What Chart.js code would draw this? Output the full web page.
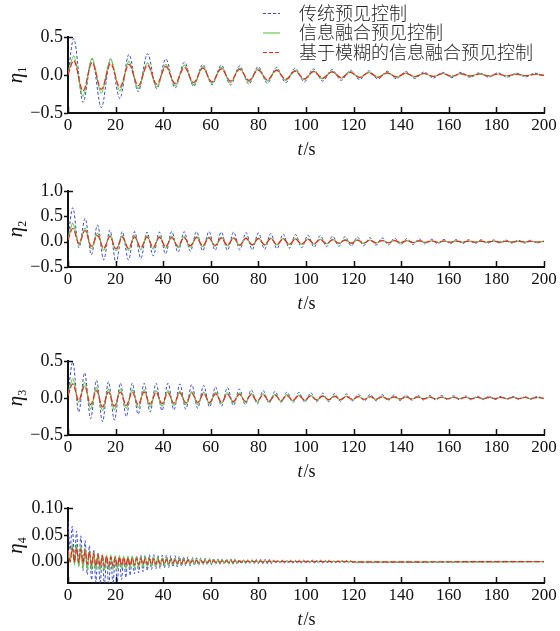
<!DOCTYPE html>
<html>
<head>
<meta charset="utf-8">
<script src="https://cdn.jsdelivr.net/npm/chart.js@4.4.0/dist/chart.umd.min.js"></script>
<style>
  html, body { margin: 0; padding: 0; background: #fff; }
  #wrap { position: relative; width: 560px; height: 631px; overflow: hidden; }
  canvas { position: absolute; left: 0; }
</style>
</head>
<body>
<div id="wrap">
  <canvas id="c1" width="560" height="158" style="top:0px"></canvas>
  <canvas id="c2" width="560" height="142" style="top:170px"></canvas>
  <canvas id="c3" width="560" height="140" style="top:340px"></canvas>
  <canvas id="c4" width="560" height="141" style="top:487px"></canvas>
</div>
<script>
// legend names
const seriesNames = ['传统预见控制', '信息融合预见控制', '基于模糊的信息融合预见控制'];

// x ticks shared by all panels
const xTicks = [0, 20, 40, 60, 80, 100, 120, 140, 160, 180, 200];

// y ticks per panel
const yTicks1 = [-0.5, 0, 0.5];
const yTicks2 = [-0.5, 0, 0.5, 1.0];
const yTicks3 = [-0.5, 0, 0.5];
const yTicks4 = [0, 0.05, 0.10];

// ---- eta1: times of the peaks / troughs ----
const t1 = [0, 2.4, 6.3, 10.1, 14.0, 17.9, 21.8, 25.6, 29.5, 33.4, 37.3, 41.1, 45.0, 48.9, 52.8, 56.6,
  60.5, 64.4, 68.3, 72.1, 76.0, 79.9, 83.8, 87.6, 91.5, 95.4, 99.3, 103.1, 107.0, 110.9, 114.8, 118.6,
  122.5, 126.4, 130.3, 134.1, 138.0, 141.9, 145.8, 149.6, 153.5, 157.4, 161.3, 165.1, 169.0, 172.9,
  176.8, 180.6, 184.5, 188.4, 192.3, 196.1, 200];
const p1Trad = [0,
  0.48, -0.36, 0.21, -0.43, 0.21, -0.31, 0.27, -0.22, 0.28, -0.18,
  0.21, -0.17, 0.17, -0.15, 0.14, -0.13, 0.13, -0.13, 0.12, -0.12,
  0.11, -0.11, 0.10, -0.10, 0.09, -0.09, 0.08, -0.08, 0.07, -0.07,
  0.06, -0.06, 0.055, -0.055, 0.05, -0.05, 0.045, -0.045, 0.04, -0.04,
  0.035, -0.035, 0.035, -0.03, 0.03, -0.03, 0.03, -0.03, 0.025, -0.025,
  0.025, -0.01];
const p1Fusion = [0.02,
  0.25, -0.28, 0.22, -0.24, 0.21, -0.21, 0.18, -0.18, 0.16, -0.16,
  0.14, -0.14, 0.13, -0.13, 0.11, -0.11, 0.10, -0.10, 0.09, -0.09,
  0.08, -0.08, 0.07, -0.07, 0.06, -0.06, 0.05, -0.05, 0.045, -0.04,
  0.04, -0.035, 0.035, -0.03, 0.03, -0.03, 0.025, -0.025, 0.022, -0.02,
  0.02, -0.018, 0.017, -0.015, 0.015, -0.013, 0.013, -0.012, 0.012, -0.01,
  0.01, -0.005];
const p1Fuzzy = [0,
  0.19, -0.21, 0.16, -0.19, 0.15, -0.16, 0.14, -0.14, 0.13, -0.12,
  0.11, -0.11, 0.10, -0.10, 0.09, -0.09, 0.08, -0.08, 0.075, -0.07,
  0.065, -0.06, 0.06, -0.055, 0.05, -0.05, 0.045, -0.04, 0.04, -0.035,
  0.035, -0.03, 0.03, -0.03, 0.025, -0.025, 0.022, -0.02, 0.02, -0.018,
  0.017, -0.015, 0.015, -0.013, 0.013, -0.012, 0.011, -0.01, 0.01, -0.01,
  0.01, -0.005];

// ---- eta2 ----
const t2 = [0,
  2.0, 4.6, 7.2, 9.8, 12.4, 15.0, 17.6, 20.2, 22.8, 25.4,
  28.0, 30.6, 33.2, 35.8, 38.4, 41.0, 43.6, 46.2, 48.8, 51.4,
  54.0, 56.6, 59.2, 61.8, 64.4, 67.0, 69.6, 72.2, 74.8, 77.4,
  80.0, 82.6, 85.2, 87.8, 90.4, 93.0, 95.6, 98.2, 100.8, 103.4,
  106.0, 108.6, 111.2, 113.8, 116.4, 119.0, 121.6, 124.2, 126.8, 129.4,
  132.0, 134.6, 137.2, 139.8, 142.4, 145.0, 147.6, 150.2, 152.8, 155.4,
  158.0, 160.6, 163.2, 165.8, 168.4, 171.0, 173.6, 176.2, 178.8, 181.4,
  184.0, 186.6, 189.2, 191.8, 194.4, 197.0,
  200];
const p2Trad = [0.05,
  0.67, -0.12, 0.46, -0.26, 0.33, -0.36, 0.23, -0.42, 0.20, -0.36,
  0.20, -0.33, 0.19, -0.28, 0.19, -0.24, 0.20, -0.21, 0.20, -0.19,
  0.20, -0.18, 0.20, -0.17, 0.19, -0.17, 0.19, -0.16, 0.18, -0.16,
  0.17, -0.15, 0.16, -0.14, 0.15, -0.13, 0.14, -0.12, 0.13, -0.11,
  0.12, -0.10, 0.11, -0.09, 0.10, -0.085, 0.09, -0.08, 0.08, -0.07,
  0.075, -0.065, 0.07, -0.06, 0.06, -0.055, 0.055, -0.05, 0.05, -0.045,
  0.045, -0.04, 0.042, -0.038, 0.04, -0.035, 0.037, -0.033, 0.034, -0.03,
  0.032, -0.028, 0.03, -0.026, 0.028, -0.025,
  0.01];
const p2Fusion = [0.05,
  0.36, -0.06, 0.27, -0.14, 0.17, -0.17, 0.13, -0.18, 0.12, -0.17,
  0.12, -0.16, 0.12, -0.15, 0.11, -0.13, 0.11, -0.12, 0.10, -0.11,
  0.10, -0.10, 0.09, -0.09, 0.085, -0.085, 0.08, -0.08, 0.075, -0.075,
  0.07, -0.07, 0.07, -0.065, 0.065, -0.06, 0.06, -0.055, 0.055, -0.05,
  0.05, -0.045, 0.045, -0.04, 0.04, -0.035, 0.035, -0.032, 0.03, -0.028,
  0.027, -0.025, 0.024, -0.022, 0.021, -0.02, 0.019, -0.018, 0.017, -0.016,
  0.015, -0.014, 0.014, -0.013, 0.013, -0.012, 0.012, -0.011, 0.011, -0.01,
  0.01, -0.009, 0.009, -0.008, 0.008, -0.008,
  0.004];
const p2Fuzzy = [0.03,
  0.26, -0.03, 0.22, -0.09, 0.12, -0.13, 0.10, -0.14, 0.09, -0.13,
  0.09, -0.12, 0.09, -0.11, 0.085, -0.10, 0.08, -0.09, 0.08, -0.08,
  0.08, -0.08, 0.075, -0.075, 0.07, -0.07, 0.07, -0.065, 0.065, -0.06,
  0.06, -0.06, 0.06, -0.055, 0.055, -0.05, 0.05, -0.045, 0.045, -0.04,
  0.04, -0.035, 0.035, -0.03, 0.03, -0.03, 0.028, -0.026, 0.025, -0.023,
  0.022, -0.02, 0.02, -0.018, 0.018, -0.016, 0.016, -0.014, 0.014, -0.013,
  0.013, -0.012, 0.012, -0.011, 0.011, -0.01, 0.01, -0.01, 0.009, -0.009,
  0.008, -0.008, 0.008, -0.007, 0.007, -0.007,
  0.004];

// ---- eta3 ----
const t3 = [0,
  2.0, 4.5, 7.0, 9.5, 12.0, 14.5, 17.0, 19.5, 22.0, 24.5,
  27.0, 29.5, 32.0, 34.5, 37.0, 39.5, 42.0, 44.5, 47.0, 49.5,
  52.0, 54.5, 57.0, 59.5, 62.0, 64.5, 67.0, 69.5, 72.0, 74.5,
  77.0, 79.5, 82.0, 84.5, 87.0, 89.5, 92.0, 94.5, 97.0, 99.5,
  102.0, 104.5, 107.0, 109.5, 112.0, 114.5, 117.0, 119.5, 122.0, 124.5,
  127.0, 129.5, 132.0, 134.5, 137.0, 139.5, 142.0, 144.5, 147.0, 149.5,
  152.0, 154.5, 157.0, 159.5, 162.0, 164.5, 167.0, 169.5, 172.0, 174.5,
  177.0, 179.5, 182.0, 184.5, 187.0, 189.5, 192.0, 194.5, 197.0,
  200];
const p3Trad = [0.04,
  0.49, -0.19, 0.34, -0.28, 0.24, -0.32, 0.22, -0.30, 0.20, -0.25,
  0.20, -0.22, 0.20, -0.19, 0.20, -0.17, 0.20, -0.16, 0.19, -0.15,
  0.18, -0.14, 0.17, -0.12, 0.15, -0.11, 0.14, -0.10, 0.12, -0.09,
  0.11, -0.08, 0.10, -0.07, 0.09, -0.06, 0.08, -0.06, 0.075, -0.055,
  0.07, -0.05, 0.065, -0.05, 0.06, -0.045, 0.055, -0.04, 0.05, -0.04,
  0.048, -0.038, 0.045, -0.035, 0.042, -0.033, 0.04, -0.03, 0.038, -0.03,
  0.035, -0.028, 0.033, -0.026, 0.03, -0.025, 0.028, -0.024, 0.026, -0.022,
  0.025, -0.021, 0.023, -0.02, 0.022, -0.019, 0.02, -0.018,
  0.02, -0.01];
const p3Fusion = [0.04,
  0.26, -0.06, 0.21, -0.15, 0.14, -0.17, 0.12, -0.16, 0.12, -0.14,
  0.11, -0.13, 0.11, -0.12, 0.10, -0.11, 0.10, -0.10, 0.09, -0.09,
  0.085, -0.085, 0.08, -0.08, 0.075, -0.07, 0.07, -0.065, 0.065, -0.06,
  0.06, -0.055, 0.055, -0.05, 0.05, -0.045, 0.045, -0.04, 0.04, -0.035,
  0.035, -0.032, 0.032, -0.03, 0.028, -0.026, 0.025, -0.023, 0.022, -0.02,
  0.02, -0.018, 0.018, -0.016, 0.016, -0.015, 0.015, -0.014, 0.014, -0.013,
  0.013, -0.012, 0.012, -0.011, 0.011, -0.01, 0.01, -0.01, 0.01, -0.009,
  0.009, -0.009, 0.009, -0.008, 0.008, -0.008, 0.008, -0.007,
  0.007, -0.005];
const p3Fuzzy = [0.03,
  0.19, -0.03, 0.16, -0.09, 0.10, -0.12, 0.08, -0.11, 0.08, -0.10,
  0.08, -0.09, 0.08, -0.08, 0.075, -0.075, 0.07, -0.07, 0.07, -0.065,
  0.065, -0.06, 0.06, -0.06, 0.055, -0.055, 0.05, -0.05, 0.05, -0.045,
  0.045, -0.04, 0.04, -0.04, 0.035, -0.035, 0.032, -0.03, 0.03, -0.028,
  0.027, -0.025, 0.025, -0.023, 0.022, -0.02, 0.02, -0.018, 0.018, -0.017,
  0.017, -0.015, 0.015, -0.014, 0.014, -0.013, 0.013, -0.012, 0.012, -0.011,
  0.011, -0.01, 0.01, -0.01, 0.01, -0.009, 0.009, -0.009, 0.009, -0.008,
  0.008, -0.008, 0.008, -0.007, 0.007, -0.007, 0.007, -0.006,
  0.006, -0.004];

// ---- eta4 ----
const t4 = [0, 0.9, 1.8, 2.7, 3.6, 4.5, 5.4, 6.3, 7.2, 8.1,
  9, 9.9, 10.8, 11.7, 12.6, 13.5, 14.4, 15.3, 16.2, 17.1,
  18, 18.9, 19.8, 20.7, 21.6, 22.5, 23.4, 24.3, 25.2, 26.1,
  27, 27.9, 28.8, 29.7, 30.6, 31.5, 32.4, 33.3, 34.2, 35.1,
  36, 36.9, 37.8, 38.7, 39.6, 40.5, 41.4, 42.3, 43.2, 44.1,
  45, 45.9, 46.8, 47.7, 48.6, 49.5, 50.4, 51.3, 52.2, 53.1,
  54, 54.9, 55.8, 56.7, 57.6, 58.5, 59.4, 60.3, 61.2, 62.1,
  63, 63.9, 64.8, 65.7, 66.6, 67.5, 68.4, 69.3, 70.2, 71.1,
  72, 72.9, 73.8, 74.7, 75.6, 76.5, 77.4, 78.3, 79.2, 80.1,
  81, 81.9, 82.8, 83.7, 84.6, 85.5, 86.4, 87.3, 88.2, 89.1,
  90, 90.9, 91.8, 92.7, 93.6, 94.5, 95.4, 96.3, 97.2, 98.1,
  99, 99.9, 100.8, 101.7, 102.6, 103.5, 104.4, 105.3, 106.2, 107.1,
  108, 108.9, 109.8, 110.7, 111.6, 112.5, 113.4, 114.3, 115.2, 116.1,
  117, 117.9, 118.8, 119.7,
  200];
const p4Trad = [0.075, 0.022, 0.066, 0.006, 0.057, -0.007, 0.048, -0.017, 0.039, -0.025,
  0.030, -0.034, 0.022, -0.039, 0.016, -0.043, 0.011, -0.045, 0.008, -0.045,
  0.006, -0.043, 0.006, -0.039, 0.007, -0.034, 0.008, -0.030, 0.009, -0.026,
  0.010, -0.023, 0.011, -0.021, 0.012, -0.019, 0.012, -0.017, 0.013, -0.015,
  0.013, -0.014, 0.012, -0.013, 0.012, -0.012, 0.012, -0.011, 0.011, -0.010,
  0.011, -0.010, 0.010, -0.009, 0.009, -0.008, 0.009, -0.008, 0.008, -0.007,
  0.007, -0.007, 0.007, -0.006, 0.006, -0.006, 0.006, -0.006, 0.006, -0.005,
  0.005, -0.005, 0.005, -0.005, 0.005, -0.005, 0.005, -0.005, 0.005, -0.005,
  0.004, -0.004, 0.004, -0.004, 0.004, -0.004, 0.004, -0.004, 0.004, -0.004,
  0.004, -0.004, 0.004, -0.004, 0.004, -0.004, 0.003, -0.003, 0.003, -0.003,
  0.003, -0.003, 0.003, -0.003, 0.003, -0.003, 0.003, -0.003, 0.003, -0.003,
  0.003, -0.003, 0.003, -0.003, 0.003, -0.003, 0.003, -0.003, 0.003, -0.003,
  0.003, -0.003, 0.003, -0.002, 0.002, -0.002, 0.002, -0.002, 0.002, -0.002,
  0.002, -0.002, 0.002, -0.002,
  0];
const p4Fusion = [0.020, -0.002, 0.033, -0.006, 0.032, -0.010, 0.029, -0.013, 0.025, -0.015,
  0.020, -0.016, 0.017, -0.016, 0.015, -0.016, 0.013, -0.016, 0.012, -0.015,
  0.012, -0.015, 0.011, -0.014, 0.011, -0.013, 0.010, -0.013, 0.010, -0.012,
  0.010, -0.011, 0.009, -0.010, 0.009, -0.010, 0.009, -0.009, 0.008, -0.009,
  0.008, -0.008, 0.008, -0.008, 0.007, -0.007, 0.007, -0.007, 0.006, -0.006,
  0.006, -0.006, 0.006, -0.005, 0.005, -0.005, 0.005, -0.005, 0.005, -0.004,
  0.004, -0.004, 0.004, -0.004, 0.004, -0.004, 0.004, -0.004, 0.003, -0.003,
  0.003, -0.003, 0.003, -0.003, 0.003, -0.003, 0.003, -0.003, 0.003, -0.003,
  0.002, -0.002, 0.002, -0.002, 0.002, -0.002, 0.002, -0.002, 0.002, -0.002,
  0.002, -0.002, 0.002, -0.002, 0.002, -0.001, 0.001, -0.001, 0.001, -0.001,
  0.001, -0.001, 0.001, -0.001, 0.001, -0.001, 0.001, -0.001, 0.001, -0.001,
  0.001, -0.001, 0.001, -0.001, 0.001, -0.001, 0.001, -0.001, 0.001, -0.001,
  0.001, -0.001, 0.001, -0.001, 0.001, -0.001, 0.001, -0.001, 0.001, -0.001,
  0.001, -0.001, 0.001, -0.001,
  0];
const p4Fuzzy = [0.022, 0.000, 0.025, -0.001, 0.025, -0.002, 0.023, -0.003, 0.021, -0.005,
  0.018, -0.007, 0.015, -0.008, 0.013, -0.009, 0.011, -0.009, 0.010, -0.009,
  0.009, -0.008, 0.008, -0.008, 0.008, -0.007, 0.007, -0.007, 0.007, -0.007,
  0.006, -0.006, 0.006, -0.006, 0.006, -0.005, 0.005, -0.005, 0.005, -0.005,
  0.005, -0.005, 0.004, -0.004, 0.004, -0.004, 0.004, -0.004, 0.004, -0.003,
  0.003, -0.003, 0.003, -0.003, 0.003, -0.003, 0.003, -0.003, 0.002, -0.002,
  0.002, -0.002, 0.002, -0.002, 0.002, -0.002, 0.002, -0.002, 0.0015, -0.0015,
  0.0015, -0.0015, 0.0015, -0.0015, 0.0015, -0.0015, 0.0015, -0.0015, 0.0015, -0.0015,
  0.001, -0.001, 0.001, -0.001, 0.001, -0.001, 0.001, -0.001, 0.001, -0.001,
  0.001, -0.001, 0.001, -0.001, 0.001, -0.001, 0.001, -0.001, 0.001, -0.001,
  0.0005, -0.0005, 0.0005, -0.0005, 0.0005, -0.0005, 0.0005, -0.0005, 0.0005, -0.0005,
  0.0005, -0.0005, 0.0005, -0.0005, 0.0005, -0.0005, 0.0005, -0.0005, 0.0005, -0.0005,
  0.0005, -0.0005, 0.0005, -0.0005, 0.0005, -0.0005, 0.0005, -0.0005, 0.0005, -0.0005,
  0.0005, -0.0005, 0.0005, -0.0005,
  0];

const colTrad = '#3a4cc4';
const colFusion = '#6cc850';
const colFuzzy = '#ec2a22';
const serif = '"Liberation Serif", "Times New Roman", serif';

function pts(t, v) {
  return v.map((y, i) => ({ x: t[i], y: y }));
}

function fmt(v, d) {
  return Number(v).toFixed(d).replace('-', '\u2212');
}

// inward x ticks, y ticks, axis titles
const axisDeco = {
  id: 'axisDeco',
  afterDraw(chart) {
    const o = chart.options.plugins.axisDeco;
    const ctx = chart.ctx, a = chart.chartArea;
    const xs = chart.scales.x, ys = chart.scales.y;
    ctx.save();
    ctx.strokeStyle = '#111';
    ctx.lineWidth = 1.5;
    ctx.beginPath();
    xs.ticks.forEach(tk => {
      const px = Math.round(xs.getPixelForValue(tk.value)) + 0.5;
      ctx.moveTo(px, a.bottom);
      ctx.lineTo(px, a.bottom - 6);
    });
    ys.ticks.forEach(tk => {
      const py = Math.round(ys.getPixelForValue(tk.value)) + 0.5;
      ctx.moveTo(a.left, py);
      ctx.lineTo(a.left - 4, py);
    });
    ctx.moveTo(a.left, a.top + 0.5);
    ctx.lineTo(a.left + 5, a.top + 0.5);
    ctx.stroke();

    ctx.fillStyle = '#111';
    // y title: eta with subscript, rotated
    ctx.translate(17, (a.top + a.bottom) / 2);
    ctx.rotate(-Math.PI / 2);
    ctx.font = 'italic 21px ' + serif;
    const w = ctx.measureText('\u03b7').width;
    ctx.font = '12px ' + serif;
    const sw = ctx.measureText(o.sub).width;
    ctx.font = 'italic 21px ' + serif;
    ctx.textBaseline = 'alphabetic';
    ctx.fillText('\u03b7', -(w + sw) / 2, 5);
    ctx.font = '12px ' + serif;
    ctx.fillText(o.sub, -(w + sw) / 2 + w, 9);
    ctx.setTransform(1, 0, 0, 1, 0, 0);

    // x title: t/s
    const cx = (a.left + a.right) / 2, cy = a.bottom + 37;
    ctx.textBaseline = 'middle';
    ctx.font = 'italic 18px ' + serif;
    const tw = ctx.measureText('t').width;
    ctx.font = '18px ' + serif;
    const rw = ctx.measureText('/s').width;
    ctx.font = 'italic 18px ' + serif;
    ctx.fillText('t', cx - (tw + rw) / 2, cy);
    ctx.font = '18px ' + serif;
    ctx.fillText('/s', cx - (tw + rw) / 2 + tw + 1, cy);
    ctx.restore();
  }
};

// legend drawn at the top right of the first panel
const legendDeco = {
  id: 'legendDeco',
  afterDraw(chart) {
    if (!chart.options.plugins.legendDeco.show) return;
    const ctx = chart.ctx;
    const rows = [
      { name: seriesNames[0], color: colTrad, dash: [3, 2] },
      { name: seriesNames[1], color: colFusion, dash: [] },
      { name: seriesNames[2], color: colFuzzy, dash: [4, 2] }
    ];
    ctx.save();
    ctx.font = '300 18px "Noto Sans CJK SC"';
    ctx.textBaseline = 'middle';
    rows.forEach((r, i) => {
      const y = 13 + i * 19.5;
      ctx.strokeStyle = r.color;
      ctx.lineWidth = 1.2;
      ctx.setLineDash(r.dash);
      ctx.beginPath();
      ctx.moveTo(263, y + 0.5);
      ctx.lineTo(280, y + 0.5);
      ctx.stroke();
      ctx.fillStyle = '#222';
      ctx.fillText(r.name, 299, y);
    });
    ctx.restore();
  }
};

function makePanel(id, cfg) {
  const canvas = document.getElementById(id);
  const xAxisH = 45;
  return new Chart(canvas, {
    type: 'line',
    data: {
      datasets: [
        { label: seriesNames[0], data: pts(cfg.t, cfg.trad), borderColor: colTrad, borderWidth: 1, borderDash: [3, 2], order: 3 },
        { label: seriesNames[1], data: pts(cfg.t, cfg.fusion), borderColor: colFusion, borderWidth: 1.2, order: 2 },
        { label: seriesNames[2], data: pts(cfg.t, cfg.fuzzy), borderColor: colFuzzy, borderWidth: 1.2, borderDash: [6, 2], order: 1 }
      ]
    },
    options: {
      responsive: false,
      animation: false,
      events: [],
      layout: { padding: { top: cfg.padTop, right: 16, left: 0, bottom: 0 } },
      elements: {
        point: { radius: 0 },
        line: { cubicInterpolationMode: 'monotone', fill: false }
      },
      plugins: {
        legend: { display: false },
        tooltip: { enabled: false },
        axisDeco: { sub: cfg.sub },
        legendDeco: { show: !!cfg.legend }
      },
      scales: {
        x: {
          type: 'linear',
          min: 0,
          max: 200,
          afterBuildTicks: s => { s.ticks = xTicks.map(v => ({ value: v })); },
          afterFit: s => { s.height = xAxisH; },
          grid: { display: true, drawOnChartArea: false, drawTicks: false },
          border: { display: true, color: '#111', width: 2 },
          ticks: {
            padding: 2,
            color: '#111',
            maxRotation: 0,
            autoSkip: false,
            font: { family: serif, size: 17 },
            callback: v => String(v)
          }
        },
        y: {
          type: 'linear',
          min: cfg.yMin,
          max: cfg.yMax,
          afterBuildTicks: s => { s.ticks = cfg.yTicks.map(v => ({ value: v })); },
          afterFit: s => { s.width = 68; },
          grid: { display: true, drawOnChartArea: false, drawTicks: false },
          border: { display: true, color: '#111', width: 2 },
          ticks: {
            padding: 5,
            color: '#111',
            autoSkip: false,
            font: { family: serif, size: 18 },
            callback: v => fmt(v, cfg.digits)
          }
        }
      }
    },
    plugins: [axisDeco, legendDeco]
  });
}

makePanel('c1', { t: t1, trad: p1Trad, fusion: p1Fusion, fuzzy: p1Fuzzy, yMin: -0.5, yMax: 0.5, yTicks: yTicks1, digits: 1, sub: '1', padTop: 37, legend: true });
makePanel('c2', { t: t2, trad: p2Trad, fusion: p2Fusion, fuzzy: p2Fuzzy, yMin: -0.5, yMax: 1.0, yTicks: yTicks2, digits: 1, sub: '2', padTop: 21 });
makePanel('c3', { t: t3, trad: p3Trad, fusion: p3Fusion, fuzzy: p3Fuzzy, yMin: -0.5, yMax: 0.5, yTicks: yTicks3, digits: 1, sub: '3', padTop: 21 });
makePanel('c4', { t: t4, trad: p4Trad, fusion: p4Fusion, fuzzy: p4Fuzzy, yMin: -0.04, yMax: 0.10, yTicks: yTicks4, digits: 2, sub: '4', padTop: 21 });
</script>
</body>
</html>
